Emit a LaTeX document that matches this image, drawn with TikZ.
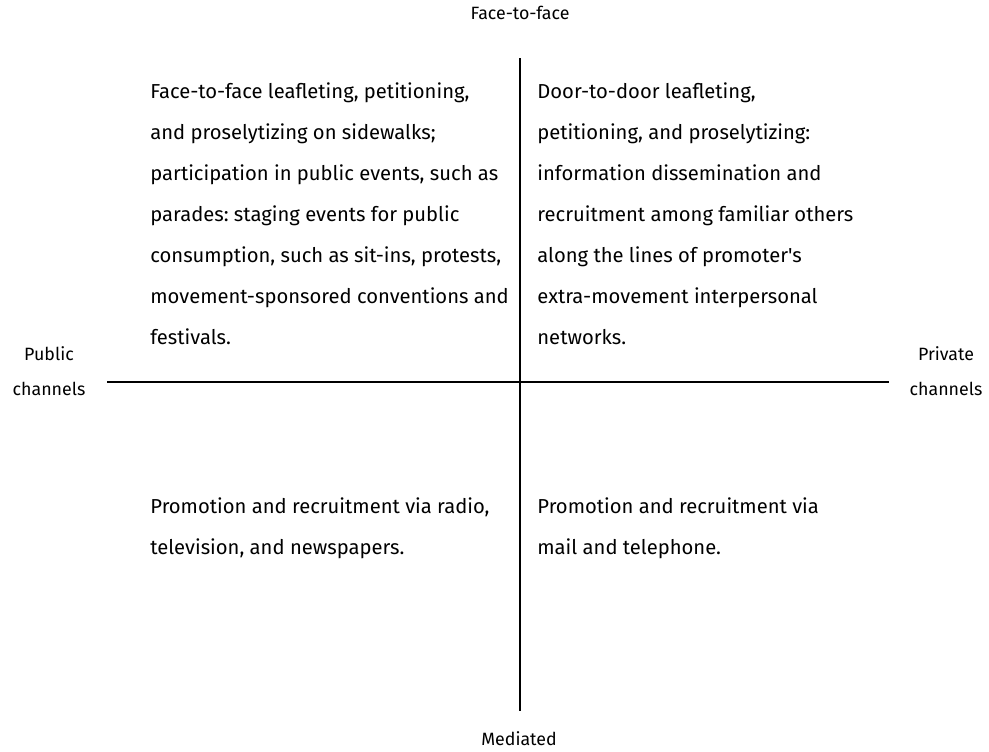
\documentclass[tikz,border=0pt]{standalone}
\usepackage{fontspec}
\setmainfont{Fira Sans}
\usetikzlibrary{positioning}
\frenchspacing

\begin{document}
\begin{tikzpicture}[x=0.5pt,y=-0.5pt,
        cell/.style={anchor=base west, align=left, inner sep=0pt, font=\fontsize{10.1}{20.5}\selectfont},
        axislabel/.style={align=center, inner sep=0pt, font=\fontsize{8.9}{17.5}\selectfont}]
        \useasboundingbox (0,0) rectangle (989,751);
        % axes
        \coordinate (top) at (520,58);
        \coordinate (bottom) at (520,711);
        \coordinate (left) at (107,382);
        \coordinate (right) at (889,382);
        \draw[line width=1pt] (top) -- (bottom);
        \draw[line width=1pt] (left) -- (right);

        \node[axislabel, anchor=base] (ftf) at (520,19) {Face-to-face};
        \node[axislabel, anchor=base] (med) at (519,745) {Mediated};
        \node[axislabel] (pub) at (49,371) {Public\\channels};
        \node[axislabel] (priv) at (946,371) {Private\\channels};

        % quadrants (anchored at the baseline of the last line)
        \node[cell] (q1) at (150,344) {Face-to-face leafleting, petitioning,\\
            and proselytizing on sidewalks;\\
            participation in public events, such as\\
            parades: staging events for public\\
            consumption, such as sit-ins, protests,\\
            movement-sponsored conventions and\\
            festivals.};
        \node[cell] (q2) at (537,344) {Door-to-door leafleting,\\
            petitioning, and proselytizing:\\
            information dissemination and\\
            recruitment among familiar others\\
            along the lines of promoter\textquotesingle s\\
            extra-movement interpersonal\\
            networks.};
        \node[cell] (q3) at (150,554) {Promotion and recruitment via radio,\\
            television, and newspapers.};
        \node[cell] (q4) at (537,554) {Promotion and recruitment via\\
            mail and telephone.};
    \end{tikzpicture}
\end{document}
